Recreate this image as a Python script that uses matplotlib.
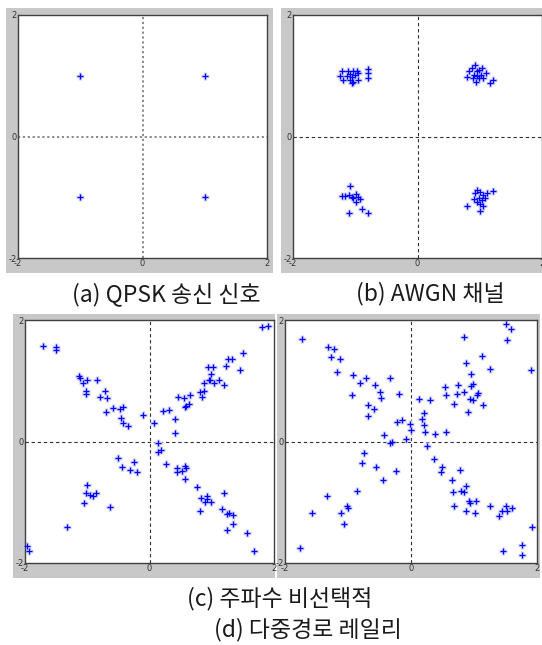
import matplotlib
matplotlib.use("Agg")
import matplotlib.pyplot as plt
from matplotlib.patches import Rectangle

W, H = 542, 645

# (a) QPSK transmitted symbols
qpsk_i = [-1.0, 1.0, -1.0, 1.0]
qpsk_q = [1.0, 1.0, -1.0, -1.0]

# (b) AWGN channel
awgn_i = [-1.22, -1.24, -1.20, -1.11, -1.08, -1.05, -1.03, -1.00, -0.97, -0.96,
          -1.06, -1.09, -1.03, -1.14, -0.80, -0.79, -0.80, -0.95,
          0.93, 0.87, 0.83, 0.79, 0.91, 0.95, 0.99, 1.02, 0.98, 0.94,
          1.06, 1.10, 1.16, 1.21, 1.03, 0.89, 0.96,
          -1.09, -1.21, -1.16, -1.10, -1.05, -0.98, -0.96, -0.93, -0.98, -1.03,
          -1.10, -0.89, -0.80,
          0.95, 0.93, 1.01, 1.06, 1.11, 0.91, 0.98, 1.03, 1.08, 1.00,
          1.05, 1.00, 1.22, 0.79, 0.95]
awgn_q = [1.08, 1.00, 0.93, 1.08, 1.03, 0.98, 1.07, 1.01, 1.07, 0.93,
          0.88, 0.93, 0.90, 1.00, 1.11, 0.96, 1.04, 1.05,
          1.18, 1.12, 1.07, 0.98, 1.01, 1.07, 1.10, 1.01, 0.96, 0.89,
          0.96, 1.04, 0.88, 0.93, 1.12, 0.96, 0.99,
          -0.81, -0.98, -0.98, -0.96, -0.99, -0.94, -0.99, -1.03, -1.08, -1.01,
          -1.26, -1.19, -1.26,
          -0.88, -0.93, -0.92, -0.96, -0.93, -1.03, -1.01, -1.04, -1.01, -1.11,
          -1.15, -1.22, -0.89, -1.14, -1.07]

# (c) frequency non-selective fading
flat_i = [1.91, 1.80, -1.71, -1.50, -1.50, -1.14, -1.12, -1.07, -1.01, -0.84,
          -1.02, -1.02, -0.79, -0.72, -0.69, -0.70, -0.59, -0.48, -0.43, -0.45,
          -0.43, -0.35, -0.11, 0.08, 0.22, 0.31, 0.41, 0.41, 0.45, 0.55,
          0.65, 0.57, 0.64, 0.59, 0.81, 0.84, 0.87, 0.88, 0.95, 0.94,
          1.02, 0.98, 1.03, 1.12, 1.19, 1.23, 1.26, 1.32, 1.45, 1.51, 0.97,
          -1.96, -1.93, -1.32, -1.06, -1.02, -1.01, -0.96, -0.91, -0.86, -0.64,
          -0.51, -0.44, -0.32, -0.25, -0.20,
          0.13, 0.13, 0.19, 0.27, 0.44, 0.44, 0.52, 0.57, 0.59, 0.57,
          0.77, 0.83, 0.92, 0.92, 0.89, 0.99, 0.81, 1.20, 1.16, 1.24,
          1.27, 1.34, 1.34, 1.25, 1.57, 1.68]
flat_q = [1.90, 1.89, 1.57, 1.56, 1.51, 1.08, 1.05, 0.97, 1.02, 1.02,
          0.83, 0.78, 0.74, 0.83, 0.71, 0.49, 0.55, 0.54, 0.56, 0.39,
          0.30, 0.25, 0.43, 0.31, 0.50, 0.52, 0.37, 0.14, 0.74, 0.71,
          0.76, 0.56, 0.61, 0.59, 0.81, 0.74, 0.83, 0.97, 1.02, 1.22,
          1.22, 1.11, 0.96, 1.02, 0.93, 1.25, 1.35, 1.36, 1.17, 1.45, 1.02,
          -1.72, -1.80, -1.40, -1.01, -0.84, -0.71, -0.88, -0.90, -0.85, -1.08,
          -0.27, -0.42, -0.47, -0.33, -0.51,
          -0.03, -0.17, -0.14, -0.37, -0.44, -0.50, -0.48, -0.41, -0.44, -0.61,
          -0.75, -0.93, -0.90, -0.94, -0.99, -1.00, -1.15, -0.85, -1.11, -1.19,
          -1.18, -1.21, -1.36, -1.46, -1.50, -1.80]

# (d) multipath Rayleigh fading
ray_i = [-1.73, -1.31, -1.22, -1.27, -1.13, -1.18, -0.92, -0.81, -0.72, -0.93,
         -0.57, -0.50, -0.48, -0.69, -0.59, -0.68, -0.34, -0.19, -0.22, -0.15,
         -0.43, -0.33, -0.30, -0.08, -0.02, 0.00, 0.12, 0.30, 0.20, 0.17,
         0.20, 0.23, 0.38, 0.55, 0.54, 0.56, 0.69, 0.74, 0.73, 0.84,
         0.84, 0.87, 0.90, 0.95, 0.96, 0.99, 0.94, 0.99, 1.04, 1.06,
         1.13, 1.14, 1.25, 1.51, 1.59, 1.52, 1.90,
         -1.76, -1.57, -1.34, -1.11, -1.06, -1.01, -1.00, -0.86, -0.78, -0.75,
         -0.56, -0.45, -0.24,
         0.26, 0.37, 0.49, 0.48, 0.65, 0.66, 0.78, 0.79, 0.84, 0.88,
         0.68, 0.88, 0.92, 0.93, 1.01, 1.03, 1.26, 1.39, 1.45, 1.50,
         1.52, 1.61, 1.46, 1.76, 1.76, 1.92]
ray_q = [1.69, 1.56, 1.53, 1.39, 1.35, 1.15, 1.09, 0.97, 1.04, 0.77,
         0.93, 0.81, 0.71, 0.60, 0.53, 0.42, 1.04, 0.78, 0.32, 0.35,
         0.10, -0.03, 0.00, 0.04, 0.28, 0.19, 0.70, 0.68, 0.47, 0.37,
         0.27, 0.16, 0.13, 0.16, 0.90, 0.76, 0.61, 0.93, 0.79, 0.81,
         1.72, 1.30, 0.48, 1.11, 0.92, 0.95, 0.70, 0.68, 0.77, 0.80,
         1.40, 0.60, 1.19, 1.94, 1.85, 1.67, 1.18,
         -1.76, -1.17, -0.89, -1.18, -1.36, -1.06, -1.10, -0.81, -0.36, -0.19,
         -0.42, -0.64, -0.49,
         -0.07, -0.28, -0.42, -0.51, -0.64, -0.83, -0.47, -0.82, -0.83, -0.74,
         -1.06, -1.15, -0.98, -1.01, -1.18, -0.98, -1.06, -1.23, -1.15, -1.06,
         -1.15, -1.10, -1.80, -1.70, -1.87, -1.40]

captions = ["(a) QPSK 송신 신호", "(b) AWGN 채널",
            "(c) 주파수 비선택적", "(d) 다중경로 레일리"]


def px_box(x0, y0, x1, y1):
    # pixel box (origin top-left) -> figure fraction [left, bottom, w, h]
    return [x0 / W, 1 - y1 / H, (x1 - x0) / W, (y1 - y0) / H]


def constellation(fig, frame, box, xs, ys, zero_style):
    fig.add_artist(Rectangle(frame[:2], frame[2], frame[3],
                             transform=fig.transFigure,
                             facecolor="#c8c8c8", edgecolor="none", zorder=0))
    ax = fig.add_axes(box)
    ax.set_facecolor("white")
    ax.set_xlim(-2, 2)
    ax.set_ylim(-2, 2)
    ax.axhline(0, **zero_style, zorder=1)
    ax.axvline(0, **zero_style, zorder=1)
    # soft halo behind each marker, then the blue cross on top
    ax.plot(xs, ys, ls="none", marker="+", ms=5.5, mew=2.4,
            color="#cfcfff", zorder=2, clip_on=False)
    ax.plot(xs, ys, ls="none", marker="+", ms=5, mew=0.9,
            color="#0000ff", zorder=3, clip_on=False)
    ax.set_xticks([-2, 0, 2])
    ax.set_yticks([-2, 0, 2])
    ax.set_xticklabels(["-2", "0", "2"])
    ax.set_yticklabels(["-2", "0", "2"])
    ax.tick_params(length=0, labelsize=6, colors="#333333", pad=1)
    for s in ax.spines.values():
        s.set_color("#404040")
        s.set_linewidth(1.0)
    return ax


fig = plt.figure(figsize=(W / 100, H / 100), dpi=100)
fig.patch.set_facecolor("white")

dotted = dict(color="#808080", lw=1.3, ls=(0, (1.2, 1.5)))
dashed = dict(color="#303030", lw=0.8, ls=(0, (3, 2.5)))

constellation(fig, px_box(6, 8, 273, 273), px_box(18, 15, 267, 258),
              qpsk_i, qpsk_q, dotted)
constellation(fig, px_box(281, 8, 542, 273), px_box(293, 15, 542, 258),
              awgn_i, awgn_q, dashed)
constellation(fig, px_box(13, 314, 275, 578), px_box(25, 320, 274, 563),
              flat_i, flat_q, dashed)
constellation(fig, px_box(277, 314, 540, 578), px_box(285, 320, 537, 563),
              ray_i, ray_q, dashed)

cap_font = dict(family=["Noto Sans CJK KR", "DejaVu Sans"], fontsize=16.5,
                ha="center", va="center", color="#1a1a1a")
fig.text(166 / W, 1 - 294 / H, captions[0], **cap_font)
fig.text(430 / W, 1 - 294 / H, captions[1], **cap_font)
fig.text(280 / W, 1 - 599 / H, captions[2], **cap_font)
fig.text(308 / W, 1 - 630 / H, captions[3], **cap_font)

fig.savefig("out.png", dpi=100)
